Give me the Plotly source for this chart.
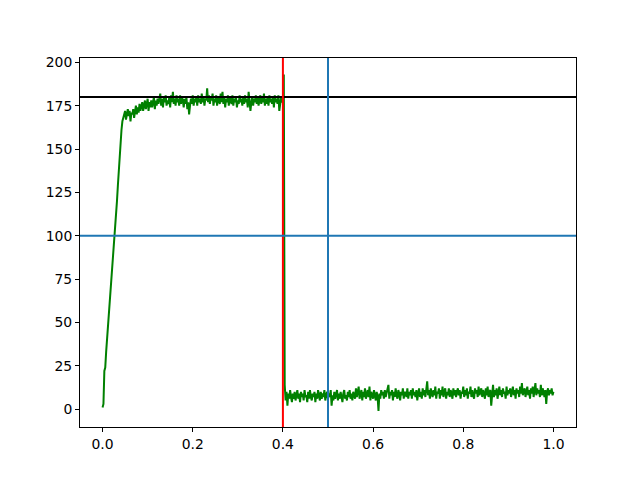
import numpy as np
import plotly.graph_objects as go

signal_rise = [
    1, 3, 22, 24, 33, 40, 46, 52, 59, 66,
    73, 80, 88, 95, 102, 111, 120, 129, 138, 147,
    155, 161, 166, 168,
]
signal_plateau = [
    170, 172, 167, 171, 173, 169, 172, 166, 171, 170,
    173, 168, 172, 175, 170, 174, 171, 176, 172, 174,
    177, 172, 175, 178, 173, 176, 179, 172, 177, 174,
    178, 174, 177, 180, 173, 178, 175, 179, 176, 181,
    182, 175, 179, 174, 180, 177, 181, 175, 178, 176,
    180, 174, 181, 177, 183, 176, 179, 175, 181, 177,
    179, 175, 181, 176, 180, 178, 174, 179, 176, 180,
    173, 177, 170, 175, 179, 176, 181, 175, 179, 177,
    180, 175, 181, 177, 179, 176, 182, 177, 180, 175,
    179, 178, 185, 177, 181, 176, 180, 178, 182, 175,
    179, 177, 181, 175, 180, 178, 176, 182, 177, 183,
    176, 180, 174, 179, 177, 181, 175, 180, 178, 176,
    181, 175, 179, 177, 180, 174, 178, 176, 181, 177,
    179, 175, 180, 176, 181, 177, 179, 174, 183, 178,
    172, 177, 180, 175, 179, 177, 181, 176, 180, 175,
    178, 181, 176, 180, 177, 182, 175, 179, 176, 180,
    175, 181, 177, 179, 176, 180, 174, 181, 177, 179,
    176, 181, 172, 178, 180, 177,
    178, 193,
]
signal_after_drop = [
    14, 5, 10, 2, 9, 6, 11, 7, 4, 9,
    6, 10, 5, 8, 11, 6, 9, 4, 10, 7,
    9, 5, 11, 7, 8, 4, 10, 6, 11, 7,
    5, 9, 7, 10, 4, 9, 6, 11, 8, 5,
    10, 6, 9, 7, 11, 5, 8, 10, 6, 9,
    7, 11, 2, 8, 5, 10, 6, 9, 11, 5,
    9, 6, 10, 7, 4, 9, 11, 6, 8, 5,
    10, 7, 11, 6, 9, 5, 10, 8, 6, 12,
    7, 10, 13, 6, 9, 11, 5, 10, 7, 12,
    6, 9, 11, 7, 13, 5, 10, 8, 6, 11,
    8, 5, 10, 7, -1, 9, 6, 11, 8, 10,
    6, 11, 7, 9, 12, 14, 6, 10, 8, 11,
    5, 10, 7, 12, 8, 6, 11, 9, 5, 10,
    8, 12, 6, 10, 9, 7, 12, 6, 10, 8,
    11, 6, 12, 8, 10, 7, 11, 5, 9, 12,
    7, 10, 6, 12, 8, 11, 7, 13, 16, 8,
    11, 6, 12, 9, 7, 11, 8, 13, 6, 10,
    9, 12, 6, 11, 8, 13, 7, 10, 12, 6,
    10, 8, 12, 7, 11, 9, 6, 12, 8, 11,
    7, 10, 12, 8, 11, 6, 10, 9, 13, 7,
    11, 8, 12, 6, 10, 9, 13, 7, 11, 8,
    6, 12, 9, 11, 7, 13, 8, 10, 12, 7,
    11, 9, 6, 12, 8, 13, 7, 10, 11, 2,
    9, 14, 7, 11, 8, 12, 6, 10, 13, 8,
    11, 7, 12, 9, 10, 6, 13, 8, 11, 9,
    12, 7, 10, 13, 8, 11, 6, 12, 9, 11,
    7, 13, 9, 15, 8, 11, 12, 7, 10, 13,
    8, 11, 6, 12, 9, 13, 7, 10, 15, 8,
    12, 9, 11, 7, 14, 8, 12, 10, 7, 11,
    3, 10, 12, 8, 11, 9, 12, 8, 10,
]
signal = signal_rise + signal_plateau + signal_after_drop
sample_step = 0.002
t = np.arange(len(signal)) * sample_step

target_level = 180      # black horizontal line
half_level = 100        # blue horizontal line
switch_time = 0.4       # red vertical line
mark_time = 0.5         # blue vertical line

x_ticks = [0.0, 0.2, 0.4, 0.6, 0.8, 1.0]
x_tick_labels = ["0.0", "0.2", "0.4", "0.6", "0.8", "1.0"]
y_ticks = [0, 25, 50, 75, 100, 125, 150, 175, 200]
y_tick_labels = [str(v) for v in y_ticks]

fig = go.Figure()
fig.add_trace(go.Scatter(x=t, y=signal, mode="lines",
                         line=dict(color="green", width=2), showlegend=False))

fig.add_shape(type="line", xref="paper", yref="y", x0=0, x1=1,
              y0=target_level, y1=target_level, line=dict(color="black", width=2))
fig.add_shape(type="line", xref="x", yref="paper", x0=switch_time, x1=switch_time,
              y0=0, y1=1, line=dict(color="red", width=2))
fig.add_shape(type="line", xref="paper", yref="y", x0=0, x1=1,
              y0=half_level, y1=half_level, line=dict(color="#1f77b4", width=2))
fig.add_shape(type="line", xref="x", yref="paper", x0=mark_time, x1=mark_time,
              y0=0, y1=1, line=dict(color="#1f77b4", width=2))

axis_common = dict(showgrid=False, zeroline=False, showline=True, mirror=True,
                   linecolor="black", linewidth=1, ticks="outside", ticklen=4,
                   tickcolor="black", tickwidth=1,
                   tickfont=dict(family="DejaVu Sans", size=13.9, color="black"))

fig.update_layout(
    width=640, height=480,
    margin=dict(l=72, r=72, t=50, b=61),
    paper_bgcolor="white", plot_bgcolor="white",
    xaxis=dict(range=[-0.05, 1.05], tickvals=x_ticks, ticktext=x_tick_labels, **axis_common),
    yaxis=dict(range=[-10.3, 202.5], tickvals=y_ticks, ticktext=y_tick_labels, **axis_common),
)

fig.write_html("out.html")
